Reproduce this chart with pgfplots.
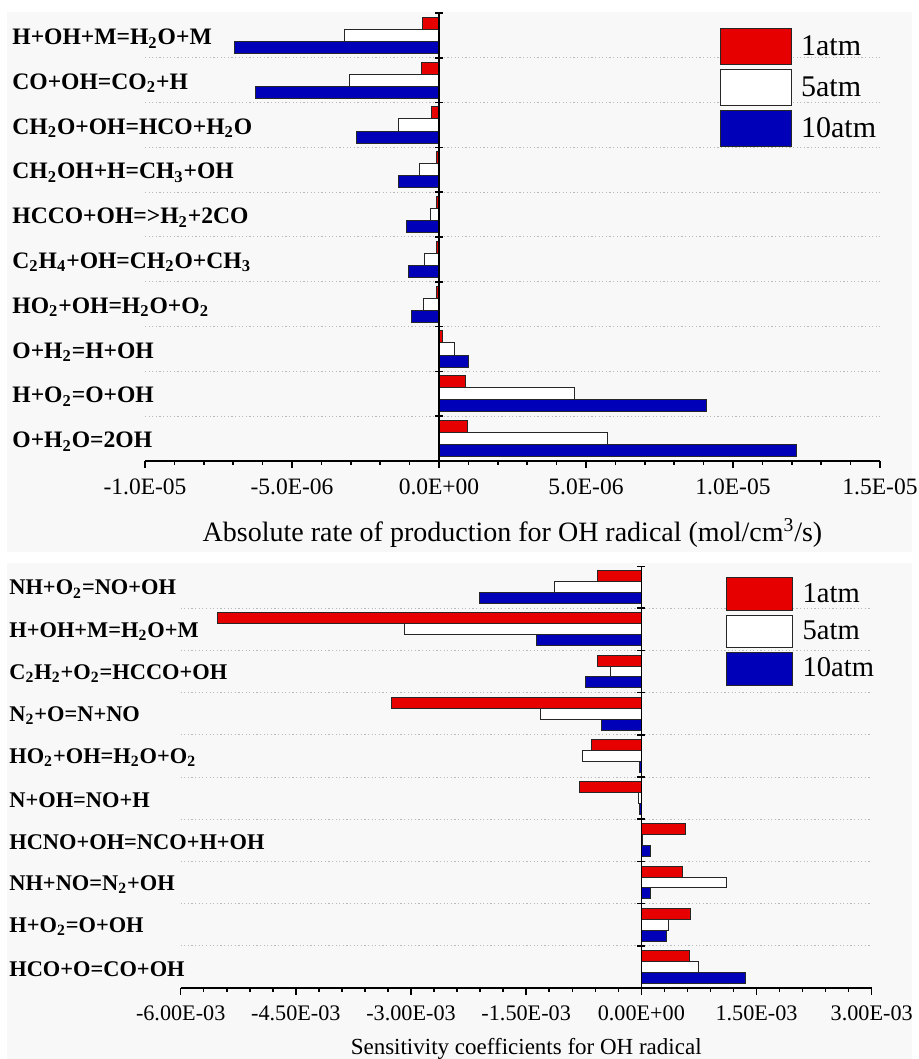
\documentclass[border=0pt]{standalone}
\usepackage{fontspec}
\setmainfont{Liberation Serif}
\usepackage{pgfplots}
\pgfplotsset{compat=1.18}

\definecolor{barred}{RGB}{230,0,0}
\definecolor{barblue}{RGB}{0,0,185}
\definecolor{panel}{RGB}{248,248,248}

\tikzset{
  rowgrid/.style={gray!55, line width=0.5pt, dash pattern=on 0.6pt off 1.2pt},
  zeroaxis/.style={black, line width=0.75pt},
}

\pgfplotsset{
  rxnbars/.style={
    scale only axis,
    scaled x ticks=false,
    axis x line*=bottom, axis y line*=left,
    y axis line style={draw=none},
    y dir=reverse,
    ymin=-0.5, ymax=9.5,
    ytick={0,...,9},
    ytick style={draw=none},
    yticklabel style={anchor=west, inner sep=0pt},
    xtick style={black, line width=0.75pt},
    x axis line style={line width=0.75pt},
    tick align=outside,
    major tick length=3.5pt, minor tick length=2pt,
    minor x tick num=4,
    xticklabel style={anchor=base, inner sep=0pt},
    legend cell align=left,
  },
  p1/.style={xbar, fill=barred, draw=black!85, line width=0.5pt, bar width=#1, bar shift=-#1},
  p5/.style={xbar, fill=white, draw=black!85, line width=0.5pt, bar width=#1, bar shift=0},
  p10/.style={xbar, fill=barblue, draw=black!85, line width=0.5pt, bar width=#1, bar shift=#1},
}

\begin{document}
\begin{tikzpicture}
\useasboundingbox (0,0) rectangle (459.5pt,529.5pt);
\fill[panel] (3.5pt,253.5pt) rectangle (456pt,523.5pt);
\fill[panel] (3.5pt,0pt) rectangle (456pt,248pt);

% Absolute rate of production of OH, x values in units of 1E-06 mol/cm^3/s
\begin{axis}[rxnbars,
  at={(72.5pt,299pt)}, anchor=south west,
  width=367.5pt, height=224pt,
  xmin=-10, xmax=15,
  xtick={-10,-5,0,5,10,15},
  xticklabels={-1.0E-05,-5.0E-06,0.0E+00,5.0E-06,1.0E-05,1.5E-05},
  xticklabel style={font=\fontsize{11.75}{12}\selectfont, yshift=-13.5pt},
  yticklabel style={font=\bfseries\fontsize{11.8}{12}\selectfont, xshift=-63pt, yshift=-1.5pt},
  yticklabels={
    H+OH+M=H\textsubscript{2}O+M,
    CO+OH=CO\textsubscript{2}+H,
    CH\textsubscript{2}O+OH=HCO+H\textsubscript{2}O,
    CH\textsubscript{2}OH+H=CH\textsubscript{3}+OH,
    HCCO+OH=>H\textsubscript{2}+2CO,
    C\textsubscript{2}H\textsubscript{4}+OH=CH\textsubscript{2}O+CH\textsubscript{3},
    HO\textsubscript{2}+OH=H\textsubscript{2}O+O\textsubscript{2},
    O+H\textsubscript{2}=H+OH,
    H+O\textsubscript{2}=O+OH,
    O+H\textsubscript{2}O=2OH},
  xlabel={Absolute rate of production for OH radical (mol/cm\textsuperscript{3}/s)},
  xlabel style={at={(axis description cs:0.5,0)}, anchor=base, inner sep=0pt,
    yshift=-40.5pt, font=\fontsize{14}{14}\selectfont},
  legend style={at={(0.782,0.9665)}, anchor=north west, draw=none, fill=none,
    inner sep=0pt, column sep=2.5pt, row sep=2pt,
    font=\fontsize{15}{15}\selectfont},
  legend image code/.code={\draw[#1] (0pt,-9pt) rectangle (35.5pt,9pt);},
]
% dotted separators between reactions
\draw[rowgrid] (axis cs:-10,0.5) -- (axis cs:15,0.5);
\draw[rowgrid] (axis cs:-10,1.5) -- (axis cs:15,1.5);
\draw[rowgrid] (axis cs:-10,2.5) -- (axis cs:15,2.5);
\draw[rowgrid] (axis cs:-10,3.5) -- (axis cs:15,3.5);
\draw[rowgrid] (axis cs:-10,4.5) -- (axis cs:15,4.5);
\draw[rowgrid] (axis cs:-10,5.5) -- (axis cs:15,5.5);
\draw[rowgrid] (axis cs:-10,6.5) -- (axis cs:15,6.5);
\draw[rowgrid] (axis cs:-10,7.5) -- (axis cs:15,7.5);
\draw[rowgrid] (axis cs:-10,8.5) -- (axis cs:15,8.5);
\addplot[p1=0.27] coordinates {
  (-0.55,0) (-0.60,1) (-0.25,2) (-0.10,3) (-0.07,4)
  (-0.10,5) (-0.10,6) (0.12,7) (0.90,8) (0.97,9)};
\addplot[p5=0.27] coordinates {
  (-3.20,0) (-3.05,1) (-1.37,2) (-0.65,3) (-0.30,4)
  (-0.50,5) (-0.52,6) (0.53,7) (4.60,8) (5.73,9)};
\addplot[p10=0.27] coordinates {
  (-6.95,0) (-6.25,1) (-2.80,2) (-1.37,3) (-1.10,4)
  (-1.04,5) (-0.95,6) (0.99,7) (9.10,8) (12.15,9)};
\legend{1atm,5atm,10atm}
% axis through zero with ticks between reactions
\draw[zeroaxis] (axis cs:0,-0.5) -- (axis cs:0,9.5);
\draw[zeroaxis] ([xshift=-2pt]axis cs:0,-0.5) -- ([xshift=2pt]axis cs:0,-0.5);
\draw[zeroaxis] ([xshift=-2pt]axis cs:0,0.5) -- ([xshift=2pt]axis cs:0,0.5);
\draw[zeroaxis] ([xshift=-2pt]axis cs:0,1.5) -- ([xshift=2pt]axis cs:0,1.5);
\draw[zeroaxis] ([xshift=-2pt]axis cs:0,2.5) -- ([xshift=2pt]axis cs:0,2.5);
\draw[zeroaxis] ([xshift=-2pt]axis cs:0,3.5) -- ([xshift=2pt]axis cs:0,3.5);
\draw[zeroaxis] ([xshift=-2pt]axis cs:0,4.5) -- ([xshift=2pt]axis cs:0,4.5);
\draw[zeroaxis] ([xshift=-2pt]axis cs:0,5.5) -- ([xshift=2pt]axis cs:0,5.5);
\draw[zeroaxis] ([xshift=-2pt]axis cs:0,6.5) -- ([xshift=2pt]axis cs:0,6.5);
\draw[zeroaxis] ([xshift=-2pt]axis cs:0,7.5) -- ([xshift=2pt]axis cs:0,7.5);
\draw[zeroaxis] ([xshift=-2pt]axis cs:0,8.5) -- ([xshift=2pt]axis cs:0,8.5);
\end{axis}

% Sensitivity of OH
\begin{axis}[rxnbars,
  at={(90.35pt,35.5pt)}, anchor=south west,
  width=345.5pt, height=211pt,
  xmin=-6e-3, xmax=3e-3,
  xtick={-6e-3,-4.5e-3,-3e-3,-1.5e-3,0,1.5e-3,3e-3},
  xticklabels={-6.00E-03,-4.50E-03,-3.00E-03,-1.50E-03,0.00E+00,1.50E-03,3.00E-03},
  xticklabel style={font=\fontsize{11.1}{12}\selectfont, yshift=-12.5pt},
  yticklabel style={font=\bfseries\fontsize{11.2}{12}\selectfont, xshift=-82.35pt, yshift=-1pt},
  yticklabels={
    NH+O\textsubscript{2}=NO+OH,
    H+OH+M=H\textsubscript{2}O+M,
    C\textsubscript{2}H\textsubscript{2}+O\textsubscript{2}=HCCO+OH,
    N\textsubscript{2}+O=N+NO,
    HO\textsubscript{2}+OH=H\textsubscript{2}O+O\textsubscript{2},
    N+OH=NO+H,
    HCNO+OH=NCO+H+OH,
    NH+NO=N\textsubscript{2}+OH,
    H+O\textsubscript{2}=O+OH,
    HCO+O=CO+OH},
  xlabel={Sensitivity coefficients for OH radical},
  xlabel style={at={(axis description cs:0.5,0)}, anchor=base, inner sep=0pt,
    yshift=-33pt, font=\fontsize{11.5}{12}\selectfont},
  legend style={at={(0.788,0.974)}, anchor=north west, draw=none, fill=none,
    inner sep=0pt, column sep=3pt, row sep=2pt,
    font=\fontsize{14.3}{14.3}\selectfont},
  legend image code/.code={\draw[#1] (0pt,-8.1pt) rectangle (33pt,8.1pt);},
]
% dotted separators between reactions
\draw[rowgrid] (axis cs:-6e-3,0.5) -- (axis cs:3e-3,0.5);
\draw[rowgrid] (axis cs:-6e-3,1.5) -- (axis cs:3e-3,1.5);
\draw[rowgrid] (axis cs:-6e-3,2.5) -- (axis cs:3e-3,2.5);
\draw[rowgrid] (axis cs:-6e-3,3.5) -- (axis cs:3e-3,3.5);
\draw[rowgrid] (axis cs:-6e-3,4.5) -- (axis cs:3e-3,4.5);
\draw[rowgrid] (axis cs:-6e-3,5.5) -- (axis cs:3e-3,5.5);
\draw[rowgrid] (axis cs:-6e-3,6.5) -- (axis cs:3e-3,6.5);
\draw[rowgrid] (axis cs:-6e-3,7.5) -- (axis cs:3e-3,7.5);
\draw[rowgrid] (axis cs:-6e-3,8.5) -- (axis cs:3e-3,8.5);
\addplot[p1=0.26] coordinates {
  (-0.57e-3,0) (-5.52e-3,1) (-0.57e-3,2) (-3.26e-3,3) (-0.65e-3,4)
  (-0.80e-3,5) (0.57e-3,6) (0.53e-3,7) (0.64e-3,8) (0.63e-3,9)};
\addplot[p5=0.26] coordinates {
  (-1.13e-3,0) (-3.08e-3,1) (-0.40e-3,2) (-1.31e-3,3) (-0.77e-3,4)
  (-0.04e-3,5) (0.02e-3,6) (1.11e-3,7) (0.35e-3,8) (0.75e-3,9)};
\addplot[p10=0.26] coordinates {
  (-2.11e-3,0) (-1.37e-3,1) (-0.73e-3,2) (-0.52e-3,3) (-0.03e-3,4)
  (-0.03e-3,5) (0.12e-3,6) (0.12e-3,7) (0.33e-3,8) (1.36e-3,9)};
\legend{1atm,5atm,10atm}
% axis through zero with ticks between reactions
\draw[zeroaxis] (axis cs:0,-0.5) -- (axis cs:0,9.5);
\draw[zeroaxis] ([xshift=-2pt]axis cs:0,-0.5) -- ([xshift=2pt]axis cs:0,-0.5);
\draw[zeroaxis] ([xshift=-2pt]axis cs:0,0.5) -- ([xshift=2pt]axis cs:0,0.5);
\draw[zeroaxis] ([xshift=-2pt]axis cs:0,1.5) -- ([xshift=2pt]axis cs:0,1.5);
\draw[zeroaxis] ([xshift=-2pt]axis cs:0,2.5) -- ([xshift=2pt]axis cs:0,2.5);
\draw[zeroaxis] ([xshift=-2pt]axis cs:0,3.5) -- ([xshift=2pt]axis cs:0,3.5);
\draw[zeroaxis] ([xshift=-2pt]axis cs:0,4.5) -- ([xshift=2pt]axis cs:0,4.5);
\draw[zeroaxis] ([xshift=-2pt]axis cs:0,5.5) -- ([xshift=2pt]axis cs:0,5.5);
\draw[zeroaxis] ([xshift=-2pt]axis cs:0,6.5) -- ([xshift=2pt]axis cs:0,6.5);
\draw[zeroaxis] ([xshift=-2pt]axis cs:0,7.5) -- ([xshift=2pt]axis cs:0,7.5);
\draw[zeroaxis] ([xshift=-2pt]axis cs:0,8.5) -- ([xshift=2pt]axis cs:0,8.5);
\end{axis}
\end{tikzpicture}
\end{document}
